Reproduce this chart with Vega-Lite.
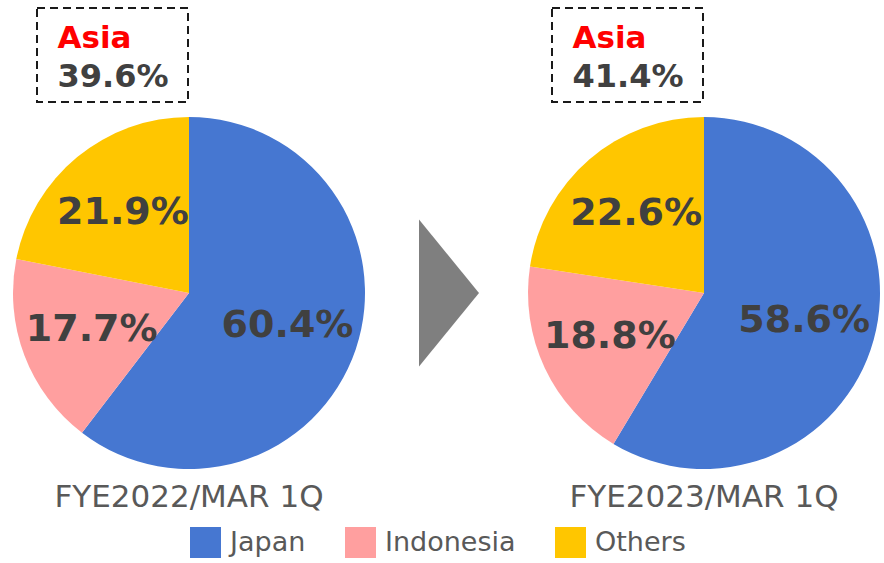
{
  "$schema": "https://vega.github.io/schema/vega-lite/v6.json",
  "autosize": {"type": "pad"},
  "padding": {"left": 13, "top": 7, "right": 0, "bottom": 0},
  "background": "white",
  "spacing": 0,
  "config": {
    "view": {"stroke": null},
    "font": "DejaVu Sans"
  },
  "datasets": {
    "shares": [
      {"period": "FYE2022/MAR 1Q", "region": "Japan", "share": 60.4, "k": 1},
      {"period": "FYE2022/MAR 1Q", "region": "Indonesia", "share": 17.7, "k": 2},
      {"period": "FYE2022/MAR 1Q", "region": "Others", "share": 21.9, "k": 3},
      {"period": "FYE2023/MAR 1Q", "region": "Japan", "share": 58.6, "k": 1},
      {"period": "FYE2023/MAR 1Q", "region": "Indonesia", "share": 18.8, "k": 2},
      {"period": "FYE2023/MAR 1Q", "region": "Others", "share": 22.6, "k": 3}
    ],
    "asia": [
      {"period": "FYE2022/MAR 1Q", "line": "a", "text": "Asia"},
      {"period": "FYE2022/MAR 1Q", "line": "b", "text": "39.6%"},
      {"period": "FYE2023/MAR 1Q", "line": "a", "text": "Asia"},
      {"period": "FYE2023/MAR 1Q", "line": "b", "text": "41.4%"}
    ],
    "arrow": [{"step": "next"}]
  },
  "vconcat": [
    {
      "spacing": 0,
      "bounds": "flush",
      "hconcat": [
        {
          "width": 151, "height": 94,
          "view": {"stroke": "#1a1a1a", "strokeWidth": 2, "strokeDash": [8, 5]},
          "data": {"name": "asia"},
          "transform": [{"filter": "datum.period === 'FYE2022/MAR 1Q'"}],
          "encoding": {
            "y": {"field": "line", "type": "nominal", "axis": null, "scale": {"type": "point", "padding": 0.734}},
            "text": {"field": "text", "type": "nominal"}
          },
          "layer": [
            {"transform": [{"filter": "datum.line === 'a'"}], "mark": {"type": "text", "align": "left", "baseline": "middle", "dx": -55, "dy": 3, "fontSize": 31, "fontWeight": "bold", "color": "#FF0000"}},
            {"transform": [{"filter": "datum.line === 'b'"}], "mark": {"type": "text", "align": "left", "baseline": "middle", "dx": -55, "dy": 3, "fontSize": 32, "fontWeight": "bold", "color": "#404040"}}
          ]
        },
        {
          "width": 364, "height": 94,
          "data": {"values": []},
          "mark": "point"
        },
        {
          "width": 151, "height": 94,
          "view": {"stroke": "#1a1a1a", "strokeWidth": 2, "strokeDash": [8, 5]},
          "data": {"name": "asia"},
          "transform": [{"filter": "datum.period === 'FYE2023/MAR 1Q'"}],
          "encoding": {
            "y": {"field": "line", "type": "nominal", "axis": null, "scale": {"type": "point", "padding": 0.734}},
            "text": {"field": "text", "type": "nominal"}
          },
          "layer": [
            {"transform": [{"filter": "datum.line === 'a'"}], "mark": {"type": "text", "align": "left", "baseline": "middle", "dx": -55, "dy": 3, "fontSize": 31, "fontWeight": "bold", "color": "#FF0000"}},
            {"transform": [{"filter": "datum.line === 'b'"}], "mark": {"type": "text", "align": "left", "baseline": "middle", "dx": -55, "dy": 3, "fontSize": 32, "fontWeight": "bold", "color": "#404040"}}
          ]
        }
      ]
    },
    {
      "spacing": 0,
      "bounds": "flush",
      "hconcat": [
        {
          "width": 304, "height": 380,
          "data": {"name": "shares"},
          "transform": [
            {"filter": "datum.period === 'FYE2022/MAR 1Q'"},
            {"calculate": "format(datum.share, '.1f') + '%'", "as": "label"}
          ],
          "title": {"text": "FYE2022/MAR 1Q", "orient": "bottom", "fontSize": 31, "fontWeight": "normal", "color": "#595959", "offset": 0},
          "encoding": {
            "theta": {"field": "share", "type": "quantitative", "stack": true},
            "order": {"field": "k", "type": "quantitative"}
          },
          "layer": [
            {
              "mark": {"type": "arc", "outerRadius": 176},
              "encoding": {
                "color": {
                  "field": "region", "type": "nominal",
                  "scale": {"domain": ["Japan", "Indonesia", "Others"], "range": ["#4677D1", "#FF9F9F", "#FFC600"]},
                  "legend": {
                    "orient": "none", "legendX": 153, "legendY": 519, "direction": "horizontal", "title": null,
                    "symbolType": "square", "symbolSize": 961, "symbolStrokeWidth": 0, "symbolOpacity": 1,
                    "labelFontSize": 27, "labelColor": "#595959", "labelOffset": 9, "columnPadding": 39, "padding": 0
                  }
                }
              }
            },
            {
              "mark": {"type": "text", "radius": 104, "fontSize": 38, "fontWeight": "bold", "color": "#404040", "baseline": "middle"},
              "encoding": {"text": {"field": "label", "type": "nominal"}}
            }
          ]
        },
        {
          "width": 211, "height": 380,
          "data": {"name": "arrow"},
          "mark": {"type": "point", "shape": "M-0.374,-1L0.442,0L-0.374,1Z", "size": 21609, "filled": true, "color": "#7F7F7F", "opacity": 1},
          "encoding": {}
        },
        {
          "width": 304, "height": 380,
          "data": {"name": "shares"},
          "transform": [
            {"filter": "datum.period === 'FYE2023/MAR 1Q'"},
            {"calculate": "format(datum.share, '.1f') + '%'", "as": "label"}
          ],
          "title": {"text": "FYE2023/MAR 1Q", "orient": "bottom", "fontSize": 31, "fontWeight": "normal", "color": "#595959", "offset": 0},
          "encoding": {
            "theta": {"field": "share", "type": "quantitative", "stack": true},
            "order": {"field": "k", "type": "quantitative"}
          },
          "layer": [
            {
              "mark": {"type": "arc", "outerRadius": 176},
              "encoding": {
                "color": {
                  "field": "region", "type": "nominal",
                  "scale": {"domain": ["Japan", "Indonesia", "Others"], "range": ["#4677D1", "#FF9F9F", "#FFC600"]},
                  "legend": {
                    "orient": "none", "legendX": 153, "legendY": 519, "direction": "horizontal", "title": null,
                    "symbolType": "square", "symbolSize": 961, "symbolStrokeWidth": 0, "symbolOpacity": 1,
                    "labelFontSize": 27, "labelColor": "#595959", "labelOffset": 9, "columnPadding": 39, "padding": 0
                  }
                }
              }
            },
            {
              "mark": {"type": "text", "radius": 104, "fontSize": 38, "fontWeight": "bold", "color": "#404040", "baseline": "middle"},
              "encoding": {"text": {"field": "label", "type": "nominal"}}
            }
          ]
        }
      ]
    }
  ]
}
